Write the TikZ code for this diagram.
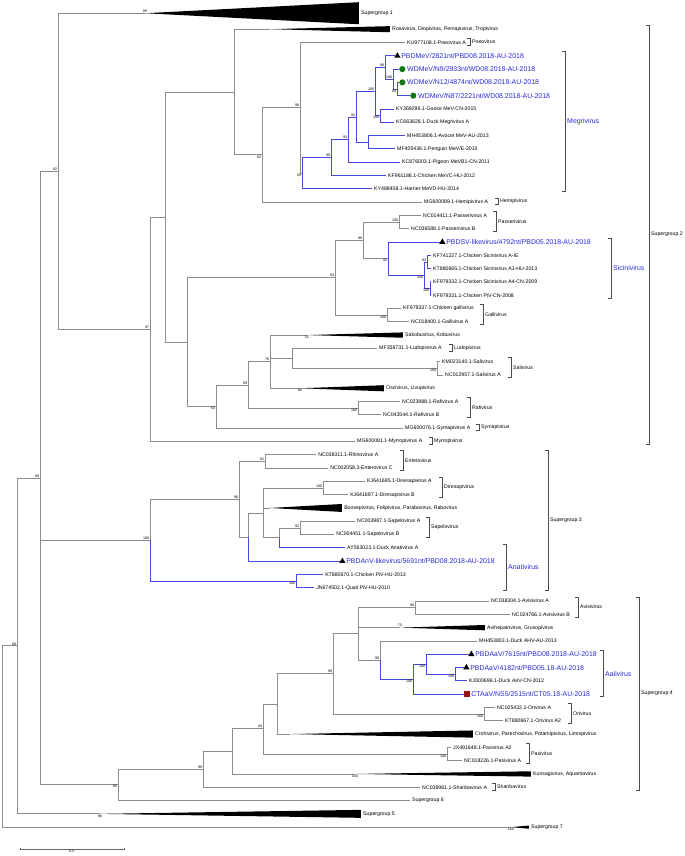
\documentclass[tikz,border=0pt]{standalone}
\usepackage{fontspec}
\setmainfont{Liberation Sans}
\usepackage{tikz}
\usetikzlibrary{positioning, calc, shapes.geometric}

\definecolor{novel}{RGB}{40,40,215}
\definecolor{branch}{RGB}{140,140,140}
\definecolor{dotgreen}{RGB}{20,120,20}
\definecolor{sqred}{RGB}{150,20,20}

\begin{document}
\begin{tikzpicture}[x=0.75pt, y={(0pt,-9.975pt)},
    br/.style={draw=branch, line width=0.6pt},
    bb/.style={draw=novel!85, line width=0.6pt},
    lab/.style={anchor=west, inner sep=0pt, font=\fontsize{3.9}{4}\selectfont},
    nv/.style={anchor=west, inner sep=0pt, text=novel, font=\fontsize{5.2}{6}\selectfont},
    bs/.style={inner sep=0.4pt, font=\fontsize{2.7}{3}\selectfont},
    bsa/.style={bs, anchor=south east},
    bsb/.style={bs, anchor=north east},
    clade/.style={draw=black!70, line width=0.5pt},
    tri/.style={regular polygon, regular polygon sides=3, fill=black, inner sep=0pt, minimum size=5.4pt},
    dot/.style={circle, fill=dotgreen, inner sep=0pt, minimum size=4.6pt},
    sq/.style={rectangle, fill=sqred, inner sep=0pt, minimum size=4pt}]
\useasboundingbox (0,-0.195) rectangle (685,64.17);

% internal nodes
\foreach \n/\x/\y in {root/2/55.19, A/17/48.37, B/40/35.74, C/58/12.68,
    SGtwo/150/24.565, SGthree/150/40.42, X/165/16.13, W/187/25.53, P1/234/6.73, n62/262/11.45,
    nPoe/300/7.9, mJ/302/12.83, mI/331/11.65, mH/348/10.3, mF/356/8.6, mB/375/6.69,
    m98/385/4.875, mA/393/5.75, m94/397/6.5, mKY/380/8.5, mH1/368/10.5,
    N63/216/30.375, N89/248/28.75, nRaf/358/30.5, N76/270/27.0,
    N94/335/20.69, nP99/363/17.875, nPas/399/16.5, nSic/388/19.25, nS3/424/20.5,
    nS1/427/19.5, nS2/430/21.5, nGal/387/23.5, NLS/292/26.75, nSal/437/27.5,
    N96/239/37.34, nEnt/265/34.5, Nana/248/40.19, Q/263/38.375, nDir/323/36.5,
    nS279/279/40.25, nSap/300/39.5, nPiV/296/43.5,
    D/118/58.8, N203/203/57.65, N232/232/56.3, N263/263/54.6, nPasi/447/56.5,
    N277/277/52.74, N333/333/50.47, nOri/484/53.5, N358/358/47.45, nAvis/415/45.5,
    nAH/380/49.44, nA3/413/50.9, nA2/426/49.75, nA1/455/50.5}
  \coordinate (\n) at (\x,\y);

% plain leaves
\foreach \n/\x/\t in {3/405/{KU977108.1-Poeovirus A}, 8/394/{KY369299.1-Goose MeV-CN-2015},
    9/394/{KC663628.1-Duck Megrivirus A}, 10/405/{MH453806.1-Avocet MeV-AU-2013},
    11/395/{MF405436.1-Penguin MeV/E-2015}, 12/400/{KC876003.1-Pigeon MeVB1-CN-2011},
    13/386/{KF961186.1-Chicken MeVC-HU-2012}, 14/372/{KY488458.1-Harrier MeVD-HU-2014},
    15/422/{MG600089.1-Hemipivirus A}, 16/421/{NC014411.1-Passerivirus A},
    17/409/{NC036588.1-Passerivirus B}, 19/431/{KF741227.1-Chicken Sicinivirus A-IE},
    20/431/{KT880665.1-Chicken Sicinivirus A1-HU-2013}, 21/431/{KF979332.1-Chicken Sicinivirus A4-CN-2009},
    22/431/{KF979331.1-Chicken PiV-CN-2008}, 23/401/{KF979337.1-Chicken gallivirus},
    24/409/{NC018400.1-Gallivirus A}, 26/377/{MF358731.1-Ludopivirus A},
    27/440/{KM023140.1-Salivirus}, 28/443/{NC012957.1-Salivirus A},
    30/400/{NC023988.1-Rafivirus A}, 31/381/{NC043544.1-Rafivirus B},
    32/403/{MG600076.1-Symapivirus A}, 33/355/{MG600081.1-Myrropivirus A},
    34/316/{NC038311.1-Rhinovirus A}, 35/328/{NC002058.3-Enterovirus C},
    36/365/{KJ641685.1-Diresapivirus A}, 37/348/{KJ641697.1-Diresapivirus B},
    39/355/{NC003987.1-Sapelovirus A}, 40/334/{NC004451.1-Sapelovirus B},
    41/345/{AY563023.1-Duck Anativirus A}, 43/323/{KT880670.1-Chicken PiV-HU-2013},
    44/314/{JN674502.1-Quail PiV-HU-2010}, 45/489/{NC038304.1-Avisivirus A},
    46/510/{NC024766.1-Avisivirus B}, 48/477/{MH453803.1-Duck AHV-AU-2013},
    51/467/{KJ000696.1-Duck AaV-CN-2012}, 53/495/{NC025432.1-Orivirus A},
    54/503/{KT880667.1-Orivirus A2}, 56/451/{JX491648.1-Pasivirus A2},
    57/462/{NC018226.1-Pasivirus A}, 59/420/{NC038961.1-Shanbavirus A},
    60/410/{Supergroup 6}}
{
  \coordinate (l\n) at (\x,\n);
  \node[lab] (t\n) at ([xshift=1.5pt]l\n) {\t};
}

% collapsed clades
\foreach \n/\r/\a/\b/\h/\t in {1/0.8/145/359/0.83/{Supergroup 1},
    2/2/270/390/0.23/{Rosavirus, Diopivirus, Pemapivirus, Tropivirus},
    25/25/307/403/0.2/{Sakobuvirus, Kobuvirus},
    29/29/300/384/0.23/{Oscivirus, Livupivirus},
    38/38/270/342/0.3/{Boosepivirus, Felipivirus, Parabovirus, Rabovirus},
    47/47/400/485/0.2/{Avihepatovirus, Grusopivirus},
    55/55/290/473/0.27/{Crohivirus, Parechovirus, Potamipivirus, Limnipivirus},
    58/58/355/531/0.2/{Kunsagivirus, Aquamavirus},
    61/61/100/361/0.3/{Supergroup 5},
    62/62/511/529/0.12/{Supergroup 7}}
{
  \coordinate (l\n) at (\a,\r);
  \fill (l\n) -- (\b,{\r-\h}) -- (\b,{\r+\h}) -- cycle;
  \node[lab] (t\n) at ([xshift=1.5pt]\b,\r) {\t};
}

% new sequences
\foreach \n/\x/\m/\t in {4/395/tri/{PBDMeV/2821nt/PBD08.2018-AU-2018},
    5/399/dot/{WDMeV/N9/2933nt/WD08.2018-AU-2018},
    6/399/dot/{WDMeV/N12/4874nt/WD08.2018-AU-2018},
    7/410/dot/{WDMeV/N87/2221nt/WD08.2018-AU-2018},
    18/440/tri/{PBDSV-likevirus/4792nt/PBD05.2018-AU-2018},
    42/340/tri/{PBDAnV-likevirus/5691nt/PBD08.2018-AU-2018},
    49/469/tri/{PBDAaV/7615nt/PBD08.2018-AU-2018},
    50/464/tri/{PBDAaV/4182nt/PBD05.18-AU-2018},
    52/464/sq/{CTAaV/NS5/2515nt/CT05.18-AU-2018}}
{
  \coordinate (l\n) at (\x,\n);
  \node[\m, anchor=west] (m\n) at (l\n) {};
  \node[nv] (t\n) at ([xshift=1pt]m\n.east) {\t};
}

% grey branches
\foreach \p/\c in {root/A, root/l62, A/B, A/l61, B/C, B/SGthree, B/D, C/l1, C/SGtwo,
    SGtwo/X, SGtwo/l33, X/P1, X/W, W/N94, W/N63, P1/l2, P1/n62, n62/nPoe, n62/l15,
    nPoe/l3, nPoe/mJ, N63/N89, N63/l32, N89/N76, N89/nRaf, nRaf/l30, nRaf/l31,
    N76/l25, N76/NLS, N76/l29, N94/nP99, N94/nGal, nGal/l23, nGal/l24, nP99/nPas, nP99/nSic,
    nPas/l16, nPas/l17, NLS/l26, NLS/nSal, nSal/l27, nSal/l28,
    SGthree/N96, N96/nEnt, N96/Nana, nEnt/l34, nEnt/l35, Nana/Q, Q/nDir, Q/l38, Q/nS279,
    nDir/l36, nDir/l37, nS279/nSap, nSap/l39, nSap/l40,
    D/N203, D/l60, N203/N232, N203/l59, N232/N263, N232/l58, N263/N277, N263/nPasi,
    nPasi/l56, nPasi/l57, N277/N333, N277/l55, N333/N358, N333/nOri, nOri/l53, nOri/l54,
    N358/nAvis, N358/l47, N358/nAH, nAvis/l45, nAvis/l46, nAH/l48}
  \draw[br] (\p) |- (\c);

% blue branches
\foreach \p/\c in {mJ/mI, mJ/l14, mI/mH, mI/l13, mH/mF, mH/l12, mF/mB, mF/mH1, mH1/l10, mH1/l11,
    mB/m98, mB/mKY, mKY/l8, mKY/l9, m98/l4, m98/mA, mA/l5, mA/m94, m94/l6, m94/l7,
    nSic/l18, nSic/nS3, nS3/nS1, nS3/nS2, nS1/l19, nS1/l20, nS2/l21, nS2/l22,
    nS279/l41, Nana/l42, SGthree/nPiV, nPiV/l43, nPiV/l44,
    nAH/nA3, nA3/nA2, nA3/l52, nA2/l49, nA2/nA1, nA1/l50, nA1/l51}
  \draw[bb] (\p) |- (\c);

% bootstrap values
\foreach \n/\v/\s in {C/92/bsa, SGtwo/97/bsa, SGthree/100/bsa, B/99/bsa, A/68/bsa,
    nPoe/99/bsa, m98/98/bsa, mA/100/bsa, m94/94/bsb, mB/100/bsa, mKY/100/bsb, mF/93/bsa,
    mH/93/bsa, mI/99/bsa, mJ/69/bsb, n62/62/bsb, nPas/100/bsa, nS1/93/bsa, nS2/100/bsb,
    nS3/100/bsb, nSic/93/bsb, nP99/99/bsa, nGal/100/bsb, N94/94/bsa, nSal/100/bsb,
    N76/76/bsa, N89/89/bsa, nRaf/100/bsb, N63/63/bsb, nEnt/91/bsa, N96/96/bsa,
    nDir/100/bsa, nSap/92/bsa, nPiV/100/bsb, nAvis/99/bsa, nAH/99/bsa, nA2/100/bsb,
    nA1/100/bsb, nA3/100/bsb, N333/99/bsa, nOri/100/bsb, N263/94/bsa, nPasi/100/bsb,
    N203/99/bsa, D/66/bsb}
  \node[\s] (b\n) at (\n) {\v};
\foreach \n/\v/\s in {1/99/above, 25/52/below, 29/88/below, 47/70/above, 58/100/below,
    61/88/below, 62/100/below}
  \node[bs, \s] (b\n) at (l\n) {\v};

% clade brackets
\foreach \x/\a/\b/\t in {470/3/3/Poeovirus, 498/15/15/Hemipivirus, 496/16/17/Passerivirus,
    483/23/24/Gallivirus, 452/26/26/Ludopivirus, 511/27/28/Salivirus, 470/30/31/Rafivirus,
    479/32/32/Symapivirus, 432/33/33/Myrropivirus, 649/2/33/{Supergroup 2},
    403/34/35/Enterovirus, 442/36/37/Diresapivirus, 429/39/40/Sapelovirus,
    548/34/44/{Supergroup 3}, 578/45/46/Avisivirus, 571/53/54/Orivirus,
    529/56/57/Pasivirus, 495/59/59/Shanbavirus, 639/45/59/{Supergroup 4}}
{
  \draw[clade] ({\x-2.5},{\a-0.3}) -- (\x,{\a-0.3}) -- (\x,{\b+0.2}) -- ({\x-2.5},{\b+0.2});
  \node[lab] (c\a) at ({\x+2},{(\a+\b)/2-0.05}) {\t};
}
\foreach \x/\a/\b/\t in {565/4/14/Megrivirus, 611/18/22/Sicinivirus,
    506/41/44/Anativirus, 603/49/52/Aalivirus}
{
  \draw[clade] ({\x-2.5},{\a-0.3}) -- (\x,{\a-0.3}) -- (\x,{\b+0.2}) -- ({\x-2.5},{\b+0.2});
  \node[nv] (c\a) at ({\x+2},{(\a+\b)/2-0.05}) {\t};
}

% scale bar
\coordinate (s0) at (20,63.64);
\coordinate (s1) at (124,63.64);
\draw[black!60, line width=0.5pt] ([yshift=1pt]s0) -- (s0) -- (s1) -- ([yshift=1pt]s1);
\node[bs, below=0.3pt] (sc) at ($(s0)!0.5!(s1)$) {0.5};
\end{tikzpicture}
\end{document}
